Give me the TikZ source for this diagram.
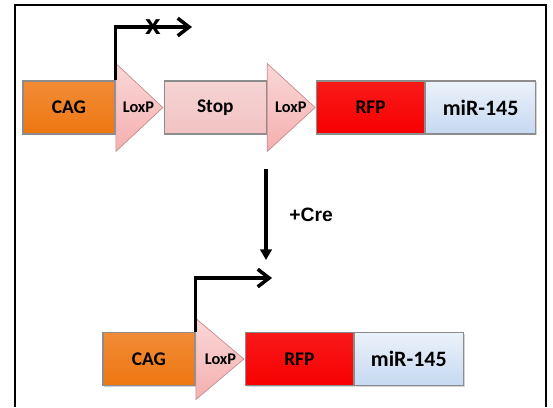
\documentclass[tikz,border=0pt]{standalone}
\usepackage{fontspec}
\setmainfont{Carlito}
\newfontfamily\arialfont{Liberation Sans}
\usepackage{xcolor}
\usetikzlibrary{shapes,arrows.meta,positioning,shadows}

\definecolor{cagorange}{HTML}{EE7712}
\definecolor{stoppink}{HTML}{F2C2C2}
\definecolor{loxpink}{HTML}{F5AFAF}
\definecolor{rfpred}{HTML}{F80000}
\definecolor{mirblue}{HTML}{C6D9F1}

\begin{document}
\begin{tikzpicture}[
        x=0.02cm, y=-0.02cm,
        gene/.style={rectangle, draw=black!45, line width=0.6pt, minimum height=1.06cm, inner sep=0pt, font=\bfseries\fontsize{11}{12}\selectfont, drop shadow={opacity=0.35, shadow xshift=0.8pt, shadow yshift=-0.8pt}},
        loxp/.style={isosceles triangle, isosceles triangle stretches, draw=loxpink!80!black, line width=0.4pt, top color=loxpink!50, bottom color=loxpink, inner sep=0pt},
        loxlabel/.style={font=\bfseries\fontsize{9.3}{10}\selectfont},
        promoter/.style={line width=2pt, -{Straight Barb[length=6.5pt, width=10pt, line width=2pt]}},
        arrow/.style={line width=2pt, -{Triangle[length=6pt, width=6.5pt]}}
    ]
        \useasboundingbox (0,0) rectangle (553,407);
        % Frame
        \draw[line width=1.2pt] (15,407) |- (546,5) -- (546,407);

        % Top construct
        \node[gene, top color=cagorange!85, bottom color=cagorange, minimum width=1.84cm] (cag1) at (69,107.5) {CAG};
        \node[loxp, minimum height=0.94cm, minimum width=1.76cm, right=0pt of cag1] (lox1) {};
        \node[gene, top color=stoppink!70, bottom color=stoppink, minimum width=2.04cm, right=0pt of lox1] (stop) {Stop};
        \node[loxp, minimum height=0.96cm, minimum width=1.76cm, right=0pt of stop] (lox2) {};
        \node[gene, top color=rfpred!90, bottom color=rfpred, minimum width=2.16cm, right=0pt of lox2] (rfp1) {RFP};
        \node[gene, top color=mirblue!35, bottom color=mirblue, minimum width=2.2cm, font=\bfseries\fontsize{12.5}{13}\selectfont, right=0pt of rfp1] (mir1) {miR-145};
        \node[loxlabel] at ([xshift=0.46cm]lox1.west) {LoxP};
        \node[loxlabel] at ([xshift=0.48cm]lox2.west) {LoxP};

        % Blocked transcription
        \coordinate (tss1) at (192,27);
        \draw[promoter] (cag1.north east) |- (tss1);
        \node[font=\arialfont\bfseries\fontsize{16}{16}\selectfont, inner sep=0pt] (block) at (153,27) {x};

        % Cre recombination
        \coordinate (cretop) at (266,169);
        \coordinate (crebot) at (266,260);
        \draw[arrow] (cretop) -- node[right=9pt, font=\arialfont\bfseries\fontsize{11}{12}\selectfont] {+Cre} (crebot);

        % Recombined construct
        \node[gene, top color=cagorange!85, bottom color=cagorange, minimum width=1.84cm] (cag2) at (149,359) {CAG};
        \node[loxp, minimum height=0.96cm, minimum width=1.62cm, right=0pt of cag2] (lox3) {};
        \node[gene, top color=rfpred!90, bottom color=rfpred, minimum width=2.16cm, right=0pt of lox3] (rfp2) {RFP};
        \node[gene, top color=mirblue!35, bottom color=mirblue, minimum width=2.18cm, font=\bfseries\fontsize{12.5}{13}\selectfont, right=0pt of rfp2] (mir2) {miR-145};
        \node[loxlabel] at ([xshift=0.5cm]lox3.west) {LoxP};

        % Active transcription
        \coordinate (tss2) at (272,278);
        \draw[promoter] (cag2.north east) |- (tss2);
    \end{tikzpicture}
\end{document}
